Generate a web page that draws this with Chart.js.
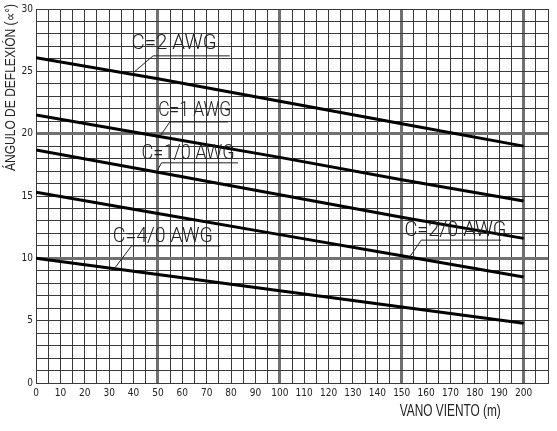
<!DOCTYPE html>
<html>
<head>
<meta charset="utf-8">
<script src="https://cdn.jsdelivr.net/npm/chart.js@4.4.1/dist/chart.umd.min.js"></script>
<style>
html,body{margin:0;padding:0;background:#fff;}
canvas{display:block;}
</style>
</head>
<body>
<canvas id="c" width="557" height="431"></canvas>
<script>
// ---- data ----
const spans = [0, 50, 100, 150, 200];            // VANO VIENTO (m)
const c2awg  = [26.1, 24.4, 22.6, 20.8, 19.0];    // C=2 AWG
const c1awg  = [21.5, 19.8, 18.1, 16.3, 14.6];    // C=1 AWG
const c10awg = [18.7, 16.9, 15.1, 13.3, 11.6];    // C=1/0 AWG
const c20awg = [15.3, 13.6, 11.9, 10.2, 8.5];     // C=2/0 AWG
const c40awg = [10.0, 8.7, 7.4, 6.1, 4.8];        // C=4/0 AWG
const seriesNames = ['C=2 AWG', 'C=1 AWG', 'C=1/0 AWG', 'C=2/0 AWG', 'C=4/0 AWG'];
const xTickLabels = ['0','10','20','30','40','50','60','70','80','90','100','110','120','130','140','150','160','170','180','190','200'];
const yTickLabels = ['0','5','10','15','20','25','30'];
const yTitle = 'ÁNGULO DE DEFLEXIÓN (∝°)';
const xTitle = 'VANO VIENTO (m)';

// ---- label placement (data coordinates) ----
const labelPlace = [
  {tx: 39.2, ty: 26.77, w: 85,  ux1: 48.0,  ux2: 79.5,  uy: 26.24, lx: 39.2},
  {tx: 50.1, ty: 21.4,  w: 73,  ux1: 54.9,  ux2: 78.8,  uy: 20.94, lx: 50.8},
  {tx: 43.3, ty: 17.98, w: 93,  ux1: 51.5,  ux2: 82.9,  uy: 17.66, lx: 49.4},
  {tx: 151.1,ty: 11.8,  w: 102, ux1: 158.0, ux2: 190.7, uy: 11.46, lx: 153.2},
  {tx: 31.5, ty: 11.32, w: 100, ux1: 39.2,  ux2: 75.6,  uy: 11.0,  lx: 32.1}
];

const allSeries = [c2awg, c1awg, c10awg, c20awg, c40awg];
const toXY = arr => arr.map((v, i) => ({x: spans[i], y: v}));
function interp(arr, x) {
  for (let i = 0; i < spans.length - 1; i++) {
    if (x >= spans[i] && x <= spans[i+1]) {
      const t = (x - spans[i]) / (spans[i+1] - spans[i]);
      return arr[i] + t * (arr[i+1] - arr[i]);
    }
  }
  return arr[arr.length - 1];
}

const thickX = [50, 100, 150, 200];
const thickY = [10, 20];
const thin = '#3a3a3a', thick = '#707070';
const tickFont = {family: '"Liberation Sans Narrow", "DejaVu Sans Condensed", sans-serif', size: 10};

const annot = {
  id: 'annot',
  afterDatasetsDraw(chart) {
    const ctx = chart.ctx, xs = chart.scales.x, ys = chart.scales.y;
    ctx.save();
    labelPlace.forEach((p, i) => {
      const tx = xs.getPixelForValue(p.tx), ty = ys.getPixelForValue(p.ty);
      ctx.fillStyle = '#222';
      ctx.font = '300 20px Roboto, "Liberation Sans", sans-serif';
      ctx.textAlign = 'left';
      ctx.textBaseline = 'alphabetic';
      const m = ctx.measureText(seriesNames[i]).width;
      ctx.save();
      ctx.translate(tx, ty);
      ctx.scale(p.w / m, 1);
      ctx.fillText(seriesNames[i], 0, 0);
      ctx.restore();
      ctx.strokeStyle = '#222';
      ctx.lineWidth = 1;
      const ux1 = xs.getPixelForValue(p.ux1), ux2 = xs.getPixelForValue(p.ux2), uy = ys.getPixelForValue(p.uy);
      ctx.beginPath();
      ctx.moveTo(ux2, uy);
      ctx.lineTo(ux1, uy);
      ctx.lineTo(xs.getPixelForValue(p.lx), ys.getPixelForValue(interp(allSeries[i], p.lx)));
      ctx.stroke();
    });
    // x axis title
    ctx.fillStyle = '#222';
    ctx.font = '16px "Liberation Sans", sans-serif';
    ctx.textBaseline = 'middle';
    ctx.textAlign = 'left';
    const xl = xs.getPixelForValue(149.2);
    const mw = ctx.measureText(xTitle).width;
    ctx.save();
    ctx.translate(xl, 411.5);
    ctx.scale(101 / mw, 1);
    ctx.fillText(xTitle, 0, 0);
    ctx.restore();
    // y axis title
    ctx.font = '14px "Liberation Sans", sans-serif';
    const yw = ctx.measureText(yTitle).width;
    ctx.save();
    ctx.translate(11, 171);
    ctx.rotate(-Math.PI / 2);
    ctx.scale(167 / yw, 1);
    ctx.fillText(yTitle, 0, 0);
    ctx.restore();
    ctx.restore();
  }
};

new Chart(document.getElementById('c'), {
  type: 'line',
  data: {
    datasets: allSeries.map((arr, i) => ({
      label: seriesNames[i],
      data: toXY(arr),
      borderColor: '#000',
      borderWidth: 3,
      pointRadius: 0,
      tension: 0,
      fill: false
    }))
  },
  options: {
    responsive: false,
    devicePixelRatio: 1,
    animation: false,
    layout: {padding: {top: 7, right: 9, left: 0, bottom: 0}},
    plugins: {legend: {display: false}, tooltip: {enabled: false}},
    scales: {
      x: {
        type: 'linear', min: 0, max: 210,
        afterFit: s => { s.height = 48; },
        ticks: {
          stepSize: 5, autoSkip: false, maxRotation: 0, padding: 4,
          color: '#222', font: tickFont,
          callback: v => (v % 10 === 0 && v <= 200) ? xTickLabels[v / 10] : ''
        },
        grid: {
          drawTicks: false,
          color: c => thickX.includes(c.tick && c.tick.value) ? thick : thin,
          lineWidth: c => thickX.includes(c.tick && c.tick.value) ? 3 : 1
        },
        border: {display: true, color: thin, width: 1}
      },
      y: {
        type: 'linear', min: 0, max: 30,
        afterFit: s => { s.width = 36; },
        ticks: {
          stepSize: 1, autoSkip: false, padding: 3,
          color: '#222', font: tickFont,
          callback: v => (v % 5 === 0) ? yTickLabels[v / 5] : ''
        },
        grid: {
          drawTicks: false,
          color: c => thickY.includes(c.tick && c.tick.value) ? thick : thin,
          lineWidth: c => thickY.includes(c.tick && c.tick.value) ? 3 : 1
        },
        border: {display: true, color: thin, width: 1}
      }
    }
  },
  plugins: [annot]
});
</script>
</body>
</html>
